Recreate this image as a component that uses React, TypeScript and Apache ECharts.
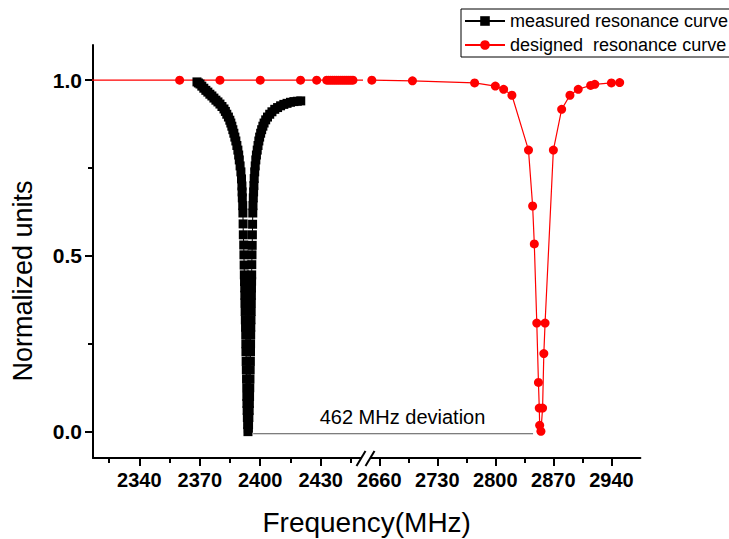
import React, { useEffect, useRef } from "react";
import * as echarts from "echarts";

// Measured resonance curve (MHz, normalized)
const measuredFreq = [
  2368.6, 2369.3, 2370.1, 2371.0, 2372.0, 2373.0, 2374.0, 2375.0, 2376.0, 2377.0,
  2378.0, 2379.0, 2380.0, 2381.0, 2382.0, 2382.7, 2383.4, 2384.2, 2384.9, 2385.4,
  2385.9, 2386.4, 2386.9, 2387.4, 2387.9, 2388.4, 2388.9, 2389.3, 2389.6, 2390.0,
  2390.4, 2390.7, 2390.9, 2391.0, 2391.1, 2391.3, 2391.4, 2391.5, 2391.6, 2391.8,
  2391.9, 2392.0, 2392.1, 2392.2, 2392.3, 2392.35, 2392.4, 2392.5, 2392.6, 2392.7,
  2392.8, 2392.85, 2392.9, 2393.0, 2393.1, 2393.2, 2393.3, 2393.35, 2393.4, 2393.5,
  2393.6, 2393.75, 2393.9,
  2394.1, 2394.2, 2394.35, 2394.5, 2394.6, 2394.7, 2394.8, 2394.9, 2395.0, 2395.1,
  2395.15, 2395.2, 2395.25, 2395.3, 2395.4, 2395.5, 2395.55, 2395.6, 2395.65, 2395.7,
  2395.75, 2395.8, 2395.9, 2396.0, 2396.1, 2396.2, 2396.3, 2396.4, 2396.55, 2396.7,
  2396.85, 2397.0, 2397.25, 2397.5, 2397.8, 2398.1, 2398.5, 2398.9, 2399.3, 2399.7,
  2400.2, 2400.7, 2401.3, 2401.9, 2402.7, 2403.6, 2404.7, 2405.8, 2407.2, 2408.6,
  2410.1, 2411.7, 2413.3, 2415.0, 2416.7, 2418.4, 2420.1,
];
const measuredValue = [
  0.995, 0.992, 0.989, 0.983, 0.977, 0.971, 0.966, 0.96, 0.955, 0.949,
  0.943, 0.938, 0.932, 0.925, 0.918, 0.911, 0.903, 0.895, 0.886, 0.878,
  0.869, 0.859, 0.849, 0.838, 0.827, 0.814, 0.801, 0.787, 0.773, 0.756,
  0.739, 0.719, 0.699, 0.682, 0.665, 0.643, 0.622, 0.591, 0.56, 0.531,
  0.503, 0.474, 0.446, 0.427, 0.409, 0.388, 0.366, 0.342, 0.318, 0.297,
  0.276, 0.25, 0.227, 0.2, 0.176, 0.15, 0.125, 0.1, 0.08, 0.06,
  0.04, 0.02, 0.0,
  0.01, 0.02, 0.04, 0.06, 0.08, 0.1, 0.125, 0.15, 0.176, 0.2,
  0.227, 0.25, 0.276, 0.297, 0.318, 0.342, 0.366, 0.388, 0.409, 0.428,
  0.446, 0.475, 0.503, 0.53, 0.56, 0.59, 0.622, 0.643, 0.665, 0.682,
  0.7, 0.72, 0.739, 0.756, 0.773, 0.787, 0.801, 0.814, 0.827, 0.838,
  0.849, 0.859, 0.869, 0.878, 0.887, 0.895, 0.903, 0.91, 0.917, 0.922,
  0.927, 0.931, 0.934, 0.937, 0.939, 0.94, 0.941,
];

// Designed resonance curve (MHz, normalized)
const designedFreq = [
  2310, 2360, 2380, 2400, 2420, 2428,
  2433, 2434, 2435, 2436, 2437, 2438, 2439, 2440, 2441, 2442, 2443, 2444, 2445, 2446,
  2651, 2700, 2775, 2800, 2810, 2820, 2840, 2845, 2847, 2850, 2852, 2853, 2853.5,
  2855, 2857, 2858.5, 2860, 2870, 2880, 2890, 2900, 2915, 2920, 2940, 2950,
];
const designedValue = [
  1.0, 1.0, 1.0, 1.0, 1.0, 1.0,
  1.0, 1.0, 1.0, 1.0, 1.0, 1.0, 1.0, 1.0, 1.0, 1.0, 1.0, 1.0, 1.0, 1.0,
  1.0, 0.998, 0.992, 0.983, 0.974, 0.957, 0.801, 0.642, 0.534, 0.309, 0.14, 0.067, 0.018,
  0.001, 0.067, 0.222, 0.309, 0.801, 0.917, 0.957, 0.974, 0.985, 0.988, 0.992, 0.993,
];

const leftMajorTicks = [2340, 2370, 2400, 2430];
const leftMinorTicks = [2325, 2355, 2385, 2415, 2445];
const rightMajorTicks = [2660, 2730, 2800, 2870, 2940];
const rightMinorTicks = [2695, 2765, 2835, 2905];
const yMajorTicks = [0, 0.5, 1.0];
const yMinorTicks = [0.25, 0.75];

const leftRange = [2317, 2450];
const rightRange = [2650, 2975];
const yRange = [-0.075, 1.1];

const deviationStart = 2396.5;
const deviationEnd = 2845.5;
const deviationLevel = -0.006;
const deviationLabelFreq = 2688;
const deviationText = "462 MHz deviation";

const measuredName = "measured resonance curve";
const designedName = "designed  resonance curve";
const xTitle = "Frequency(MHz)";
const yTitle = "Normalized units";

const FONT = "'Liberation Sans', Arial, Helvetica, sans-serif";

const G0 = { left: 93, top: 45, width: 268, height: 413 };
const G1 = { left: 371, top: 45, width: 269.4, height: 413 };

export default function App() {
  const ref = useRef<HTMLDivElement>(null);

  useEffect(() => {
    document.body.style.margin = "0";
    if (!ref.current) return;
    const chart = echarts.init(ref.current, null, { renderer: "svg" });

    const zip = (xs: number[], ys: number[]) => xs.map((x, i) => [x, ys[i]]);
    const designedData = zip(designedFreq, designedValue);

    const majorX = (gridIndex: number, range: number[], ticks: number[]) => ({
      type: "value",
      gridIndex,
      min: range[0],
      max: range[1],
      position: "bottom",
      axisLine: { show: true, onZero: false, lineStyle: { color: "#000", width: 2 } },
      axisTick: { show: true, inside: false, length: 8, customValues: ticks, lineStyle: { color: "#000", width: 2 } },
      axisLabel: {
        show: true,
        customValues: ticks,
        margin: 12,
        color: "#000",
        fontSize: 20,
        fontWeight: "bold",
        fontFamily: FONT,
        formatter: (v: number) => String(v),
      },
      splitLine: { show: false },
    });
    const minorX = (gridIndex: number, range: number[], ticks: number[]) => ({
      type: "value",
      gridIndex,
      min: range[0],
      max: range[1],
      position: "bottom",
      axisLine: { show: false, onZero: false },
      axisTick: { show: true, inside: false, length: 5, customValues: ticks, lineStyle: { color: "#000", width: 2 } },
      axisLabel: { show: false },
      splitLine: { show: false },
    });

    const option: any = {
      animation: false,
      backgroundColor: "#fff",
      legend: {
        orient: "vertical",
        left: 461,
        top: 9,
        itemWidth: 40,
        itemHeight: 12,
        itemGap: 6,
        padding: [3, 6, 3, 3],
        borderColor: "#000",
        borderWidth: 1,
        textStyle: { fontSize: 18, color: "#000", fontFamily: FONT },
        data: [measuredName, designedName],
      },
      grid: [
        { ...G0, containLabel: false },
        { ...G1, containLabel: false },
      ],
      xAxis: [
        majorX(0, leftRange, leftMajorTicks),
        minorX(0, leftRange, leftMinorTicks),
        majorX(1, rightRange, rightMajorTicks),
        minorX(1, rightRange, rightMinorTicks),
      ],
      yAxis: [
        {
          type: "value",
          gridIndex: 0,
          position: "left",
          min: yRange[0],
          max: yRange[1],
          axisLine: { show: true, onZero: false, lineStyle: { color: "#000", width: 2 } },
          axisTick: { show: true, inside: false, length: 8, customValues: yMajorTicks, lineStyle: { color: "#000", width: 2 } },
          axisLabel: {
            show: true,
            customValues: yMajorTicks,
            margin: 11,
            color: "#000",
            fontSize: 21,
            fontWeight: "bold",
            fontFamily: FONT,
            formatter: (v: number) => v.toFixed(1),
          },
          splitLine: { show: false },
        },
        {
          type: "value",
          gridIndex: 0,
          position: "left",
          min: yRange[0],
          max: yRange[1],
          axisLine: { show: false, onZero: false },
          axisTick: { show: true, inside: false, length: 5, customValues: yMinorTicks, lineStyle: { color: "#000", width: 2 } },
          axisLabel: { show: false },
          splitLine: { show: false },
        },
        {
          type: "value",
          gridIndex: 1,
          min: yRange[0],
          max: yRange[1],
          show: false,
          splitLine: { show: false },
        },
      ],
      series: [
        {
          name: measuredName,
          type: "line",
          xAxisIndex: 0,
          yAxisIndex: 0,
          data: zip(measuredFreq, measuredValue),
          symbol: "rect",
          symbolSize: 9,
          showAllSymbol: true,
          clip: true,
          itemStyle: { color: "#000" },
          lineStyle: { color: "#000", width: 1 },
          z: 3,
        },
        {
          name: designedName,
          type: "line",
          xAxisIndex: 0,
          yAxisIndex: 0,
          data: designedData,
          symbol: "circle",
          symbolSize: 9,
          showAllSymbol: true,
          clip: true,
          itemStyle: { color: "#ff0000" },
          lineStyle: { color: "#ff0000", width: 1.2 },
          z: 2,
        },
        {
          name: designedName,
          type: "line",
          xAxisIndex: 2,
          yAxisIndex: 2,
          data: designedData,
          symbol: "circle",
          symbolSize: 9,
          showAllSymbol: true,
          clip: true,
          itemStyle: { color: "#ff0000" },
          lineStyle: { color: "#ff0000", width: 1.2 },
          z: 2,
        },
      ],
    };

    chart.setOption(option);

    const pStart = chart.convertToPixel({ xAxisIndex: 0, yAxisIndex: 0 }, [deviationStart, deviationLevel]) as number[];
    const pEnd = chart.convertToPixel({ xAxisIndex: 2, yAxisIndex: 2 }, [deviationEnd, deviationLevel]) as number[];
    const pLabel = chart.convertToPixel({ xAxisIndex: 2, yAxisIndex: 2 }, [deviationLabelFreq, deviationLevel]) as number[];

    const axisY = G0.top + G0.height;
    const gapL = G0.left + G0.width;
    const gapR = G1.left;
    const gapC = (gapL + gapR) / 2;

    chart.setOption({
      graphic: [
        {
          type: "line",
          shape: { x1: pStart[0], y1: pStart[1], x2: pEnd[0], y2: pEnd[1] },
          style: { stroke: "#555", lineWidth: 1 },
          z: 1,
        },
        {
          type: "text",
          x: pLabel[0],
          y: pLabel[1] - 7,
          style: {
            text: deviationText,
            font: `20px ${FONT}`,
            fill: "#000",
            textAlign: "center",
            textVerticalAlign: "bottom",
          },
        },
        {
          type: "line",
          shape: { x1: gapC - 9.5, y1: axisY + 8, x2: gapC - 0.5, y2: axisY - 7 },
          style: { stroke: "#000", lineWidth: 2 },
        },
        {
          type: "line",
          shape: { x1: gapC - 0.5, y1: axisY + 8, x2: gapC + 8.5, y2: axisY - 7 },
          style: { stroke: "#000", lineWidth: 2 },
        },
        {
          type: "text",
          x: (G0.left + G1.left + G1.width) / 2,
          y: 522,
          style: {
            text: xTitle,
            font: `28px ${FONT}`,
            fill: "#000",
            textAlign: "center",
            textVerticalAlign: "middle",
          },
        },
        {
          type: "text",
          x: 23,
          y: 281,
          rotation: Math.PI / 2,
          style: {
            text: yTitle,
            font: `27px ${FONT}`,
            fill: "#000",
            textAlign: "center",
            textVerticalAlign: "middle",
          },
        },
      ],
    });

    return () => chart.dispose();
  }, []);

  return <div ref={ref} style={{ width: 729, height: 539 }} />;
}
